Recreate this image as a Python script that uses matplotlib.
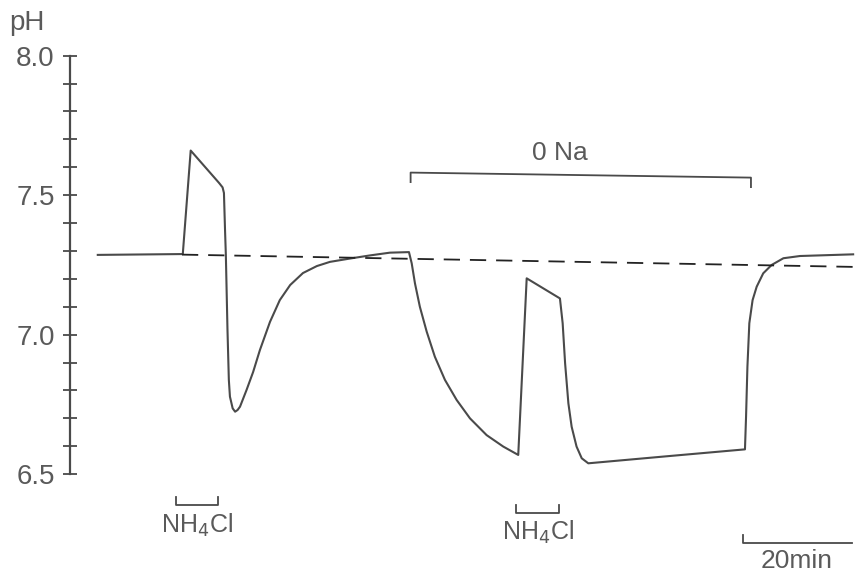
import numpy as np
import matplotlib
matplotlib.use("Agg")
import matplotlib.pyplot as plt

plt.rcParams['font.family'] = ['Liberation Sans', 'DejaVu Sans']

# pH trace (time in min, pH)
time_min = [5.1, 20.7, 22.15, 27.35, 28.0, 28.25, 28.45, 28.6, 28.9, 29.15, 29.35,
            29.85, 30.3, 30.75, 31.2, 32.4, 33.6, 34.85, 36.7, 38.5, 40.4, 42.75,
            45.3, 47.7, 51.4, 55.0, 58.7, 62.2,
            62.7, 63.3, 64.2, 65.45, 66.95, 68.8, 70.95, 73.4, 76.45, 79.5, 82.25,
            83.8, 89.9, 90.4, 90.85, 91.45, 92.05, 92.95, 93.9, 95.1, 108.8,
            123.85, 124.05, 124.3, 124.65, 125.25, 126.0, 127.2, 128.75, 130.9,
            133.95, 143.7]
ph = [7.286, 7.289, 7.660, 7.544, 7.528, 7.508, 7.375, 7.286, 7.017, 6.838, 6.778,
      6.736, 6.724, 6.730, 6.742, 6.802, 6.866, 6.945, 7.046, 7.124, 7.178, 7.221,
      7.246, 7.261, 7.273, 7.284, 7.294, 7.296,
      7.256, 7.184, 7.100, 7.011, 6.921, 6.838, 6.766, 6.700, 6.640, 6.599, 6.569,
      7.202, 7.130, 7.041, 6.897, 6.754, 6.670, 6.599, 6.557, 6.539, 6.563,
      6.589, 6.706, 6.885, 7.041, 7.124, 7.172, 7.220, 7.250, 7.274,
      7.282, 7.288]

# drifting baseline (dashed)
base_time = [20.55, 143.7]
base_ph = [7.287, 7.243]

# application periods (min)
nh4cl_periods = [(19.45, 27.2), (81.8, 89.8)]
zero_na_period = (62.5, 124.95)
scale_bar = (123.4, 143.4)  # 20 min

grey = '#4a4a4a'
text_grey = '#5a5a5a'

fig = plt.figure(figsize=(8.55, 5.77), dpi=100)
ax = fig.add_axes([0, 0, 1, 1])
ax.set_xlim(-12.84, 144.04)
ax.set_ylim(6.1315, 8.1996)

ax.plot(time_min, ph, color=grey, lw=1.5, solid_joinstyle='round')
ax.plot(base_time, base_ph, color='#222222', lw=1.3, dashes=(9, 5.5))

# pH axis
for side in ['right', 'top', 'bottom']:
    ax.spines[side].set_visible(False)
ax.spines['left'].set_position(('data', 0))
ax.spines['left'].set_bounds(6.5, 8.0)
ax.spines['left'].set_color(grey)
ax.spines['left'].set_linewidth(1.6)
ax.set_xticks([])
ax.set_yticks([6.5, 7.0, 7.5, 8.0])
ax.set_yticklabels(['6.5', '7.0', '7.5', '8.0'])
ax.set_yticks(np.arange(6.5, 8.01, 0.1), minor=True)
ax.tick_params(axis='y', which='both', direction='inout', length=10, width=1.3,
               color=grey)
ax.tick_params(axis='y', which='major', pad=6, labelsize=20, labelcolor=text_grey)
ax.text(-7.9, 8.118, 'pH', fontsize=20, color=text_grey, ha='center', va='center')

# NH4Cl brackets
for (t0, t1), y in zip(nh4cl_periods, [6.39, 6.362]):
    ax.plot([t0, t0, t1, t1], [y + 0.027, y, y, y + 0.027], color=grey, lw=1.3)
    ax.text((t0 + t1) / 2, y - 0.072, 'NH$_4$Cl', fontsize=18, color=text_grey,
            ha='center', va='center')

# 0 Na bracket
t0, t1 = zero_na_period
ax.plot([t0, t0, t1, t1], [7.547, 7.581, 7.563, 7.529], color=grey, lw=1.3)
ax.text(89.9, 7.651, '0 Na', fontsize=19, color=text_grey, ha='center', va='center')

# time scale bar
t0, t1 = scale_bar
ax.plot([t0, t0, t1], [6.282, 6.252, 6.252], color=grey, lw=1.3)
ax.text(133.4, 6.188, '20min', fontsize=19, color=text_grey, ha='center', va='center')

fig.savefig('out.png', dpi=100)
